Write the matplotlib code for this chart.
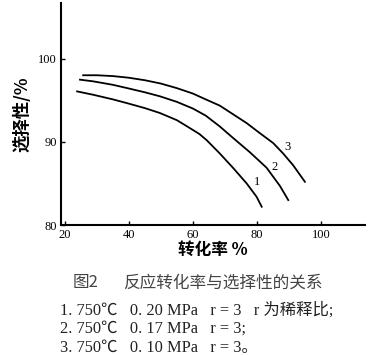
import matplotlib.pyplot as plt
import numpy as np

# curve data (conversion %, selectivity %)
x1 = [23.8, 28.8, 35, 39.3, 45, 49.7, 55, 58, 62, 64.3, 68.4, 72.6, 76.8, 79.9, 81.5]
y1 = [96.06, 95.66, 95.1, 94.66, 94.05, 93.46, 92.6, 91.9, 90.95, 90.2, 88.6, 86.85, 85.0, 83.4, 82.2]
x2 = [24.7, 28.8, 35, 39.3, 45, 49.7, 55, 60, 64, 68.4, 72.6, 77.8, 83.0, 87.2, 89.8]
y2 = [97.47, 97.27, 96.85, 96.47, 95.95, 95.47, 94.8, 94.0, 93.15, 91.85, 90.45, 88.75, 86.9, 84.7, 83.0]
x3 = [25.7, 30, 35, 40, 45, 50, 55, 60, 64, 68.4, 72.6, 76.8, 80.9, 85.1, 88.2, 91.3, 95]
y3 = [98.0, 98.0, 97.9, 97.7, 97.4, 97.0, 96.45, 95.8, 95.1, 94.35, 93.3, 92.25, 91.05, 89.85, 88.6, 87.2, 85.2]
curve_labels = ['1', '2', '3']
label_pos = [(80.1, 85.2), (85.6, 87.0), (89.5, 89.4)]

xticks = [20, 40, 60, 80, 100]
yticks = [80, 90, 100]

fig_no = '图2'
title = '反应转化率与选择性的关系'
notes = ['1. 750℃   0. 20 MPa   r = 3   r 为稀释比;',
         '2. 750℃   0. 17 MPa   r = 3;',
         '3. 750℃   0. 10 MPa   r = 3。']

serif = ['Liberation Serif', 'Noto Sans CJK SC']
cjk = ['Noto Sans CJK SC', 'DejaVu Sans']

fig = plt.figure(figsize=(3.68, 3.55), dpi=100)
ax = fig.add_axes([0.166, 0.366, 0.826, 0.626])

for xs, ys in [(x1, y1), (x2, y2), (x3, y3)]:
    ax.plot(xs, ys, color='black', lw=1.3, solid_joinstyle='round')
for lab, (lx, ly) in zip(curve_labels, label_pos):
    ax.text(lx, ly, lab, fontsize=9, family=serif, ha='center', va='center')

ax.set_xlim(18.8, 113.8)
ax.set_ylim(80, 106.7)
ax.set_xticks(xticks)
ax.set_yticks(yticks)
ax.tick_params(direction='in', length=3, width=1, labelsize=9, pad=3)
for t in ax.get_xticklabels() + ax.get_yticklabels():
    t.set_family(serif)
ax.spines['top'].set_visible(False)
ax.spines['right'].set_visible(False)
ax.spines['left'].set_linewidth(1.5)
ax.spines['bottom'].set_linewidth(1.5)

ax.set_xlabel('转化率 %', family=cjk, fontsize=12, fontweight='bold', labelpad=0)
ax.set_ylabel('选择性/%', family=cjk, fontsize=12.5, fontweight='bold', labelpad=5)

fig.text(0.196, 0.203, fig_no, family=cjk, fontsize=12, color='#444444',
         ha='left', va='center')
fig.text(0.334, 0.203, title, family=cjk, fontsize=12, color='#444444',
         ha='left', va='center')
for i, line in enumerate(notes):
    fig.text(0.163, 0.127 - i * 0.054, line, family=serif, fontsize=11.8,
             color='#222222', ha='left', va='center')

fig.savefig('out.png', dpi=100)
